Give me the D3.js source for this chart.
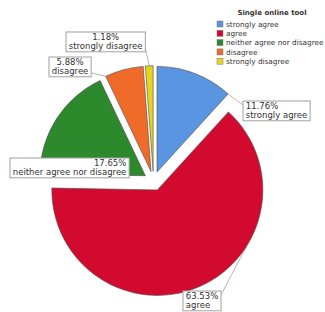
<!DOCTYPE html>
<html lang="en">
<head>
<meta charset="UTF-8">
<title>Single online tool</title>
<script src="https://d3js.org/d3.v7.min.js"></script>
<style>
    body { margin: 0; background: #fff; }
    svg { font-family: 'DejaVu Sans', Verdana, sans-serif; display: block; }
    .slice { stroke: #4a4a4a; stroke-width: 0.6; }
    .lbl-box { fill: #fff; stroke: #a0a0a0; stroke-width: 1; }
    .lbl-text { fill: #333; font-size: 8.5px; }
    .leader { stroke: #b8ad95; stroke-width: 0.9; fill: none; }
    .legend-title { font-size: 7px; font-weight: bold; fill: #333; text-anchor: middle; }
    .legend-text { font-size: 7.3px; fill: #333; }
</style>
</head>
<body>
<div id="chart"></div>
<script>
// data
const categories = ["strongly agree", "agree", "neither agree nor disagree", "disagree", "strongly disagree"];
const percents = [11.76, 63.53, 17.65, 5.88, 1.18];
const colors = ["#5a95e2", "#d30a2f", "#2c8a2d", "#f06a2a", "#e6d41e"];
const legendTitle = "Single online tool";

// label placement (annotation layout only)
const labelLayout = {
    "strongly agree":             { left: 243, top: 101, align: "start",  leaderAt: 1.0 },
    "agree":                      { left: 183, top: 291, align: "start",  leaderAt: 0.35 },
    "neither agree nor disagree": { left: 10,  top: 158, align: "end",    leaderAt: null },
    "disagree":                   { left: 49,  top: 57,  align: "middle", leaderAt: 0.0 },
    "strongly disagree":          { left: 66,  top: 32,  align: "middle", leaderAt: 0.5 }
};

const W = 325, H = 312;
const cx = 153.5, cy = 181, radius = 105.5, explode = 9.7;

const svg = d3.select("#chart").append("svg")
    .attr("width", W).attr("height", H);

const rows = categories.map((c, i) => ({ cat: c, pct: percents[i], color: colors[i] }));

const pie = d3.pie().sort(null).value(d => d.pct);
const arcs = pie(rows);
const arc = d3.arc().innerRadius(0).outerRadius(radius);

const g = svg.append("g").attr("transform", `translate(${cx},${cy})`);

function offset(d) {
    const mid = (d.startAngle + d.endAngle) / 2;
    return [Math.sin(mid) * explode, -Math.cos(mid) * explode];
}

// slices
g.selectAll(".slice")
    .data(arcs)
    .enter()
    .append("path")
    .attr("class", "slice")
    .attr("d", arc)
    .attr("fill", d => d.data.color)
    .attr("transform", d => `translate(${offset(d)})`);

// labels
const lineH = 8.6, padX = 2.8, padY = 1.3;
arcs.forEach(d => {
    const lay = labelLayout[d.data.cat];
    const lines = [d.data.pct.toFixed(2) + "%", d.data.cat];

    const lg = svg.append("g");
    const box = lg.append("rect").attr("class", "lbl-box");
    const txt = lg.append("text").attr("class", "lbl-text");
    lines.forEach((t, i) => {
        txt.append("tspan").attr("x", 0).attr("y", lay.top + padY + 7 + i * lineH).text(t);
    });
    const widths = [];
    txt.selectAll("tspan").each(function() { widths.push(this.getComputedTextLength()); });
    const wMax = d3.max(widths);
    const left = lay.left;
    const bw = wMax + padX * 2, bh = lines.length * lineH + padY * 2;
    const tx = lay.align === "end" ? left + padX + wMax
        : lay.align === "middle" ? left + bw / 2 : left + padX;
    txt.selectAll("tspan").attr("x", tx).attr("text-anchor", lay.align);
    box.attr("x", left).attr("y", lay.top).attr("width", bw).attr("height", bh);

    if (lay.leaderAt !== null) {
        const a = d.startAngle + (d.endAngle - d.startAngle) * lay.leaderAt;
        const [ox, oy] = offset(d);
        const px = cx + ox + Math.sin(a) * radius;
        const py = cy + oy - Math.cos(a) * radius;
        // attach to the side of the box facing the slice
        let sx, sy;
        if (px > left && px < left + bw) {
            sx = px; sy = py < lay.top ? lay.top : lay.top + bh;
        } else {
            sx = px >= left + bw ? left + bw : left;
            sy = Math.min(lay.top + bh - 4, Math.max(lay.top + 4, py));
        }
        svg.insert("path", "g").attr("class", "leader")
            .attr("d", `M${sx},${sy}L${px},${py}`);
    }
});

// legend
const legX = 217, legY = 21, legStep = 9.3, sw = 6;
svg.append("text").attr("class", "legend-title")
    .attr("x", 272).attr("y", 15).text(legendTitle);
const leg = svg.selectAll(".leg")
    .data(rows)
    .enter()
    .append("g")
    .attr("transform", (d, i) => `translate(${legX},${legY + i * legStep})`);
leg.append("rect")
    .attr("width", sw).attr("height", sw)
    .attr("fill", d => d.color)
    .attr("stroke", "#777").attr("stroke-width", 0.5);
leg.append("text").attr("class", "legend-text")
    .attr("x", 9).attr("y", 5.6)
    .text(d => d.cat);
</script>
</body>
</html>
